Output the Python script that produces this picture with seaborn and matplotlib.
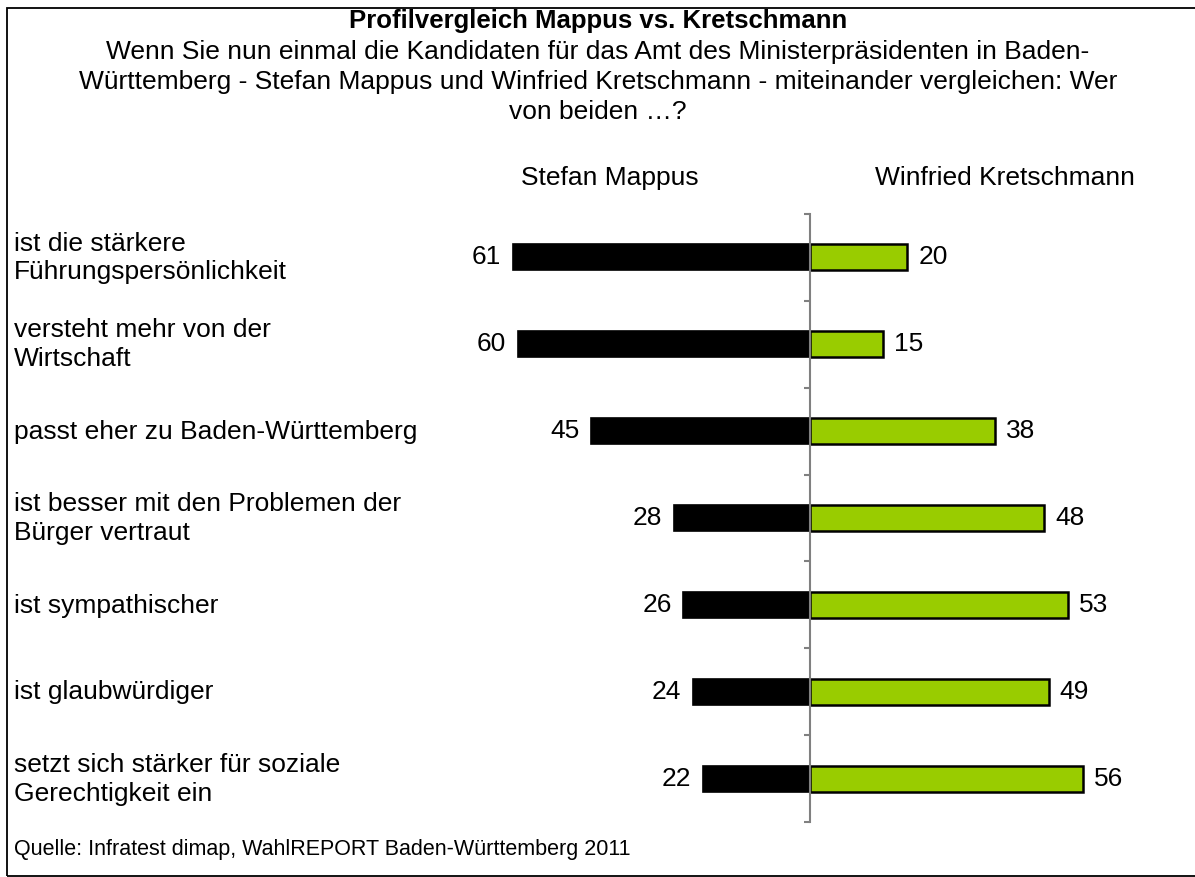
import matplotlib
matplotlib.use("Agg")
import matplotlib.pyplot as plt
import pandas as pd
import seaborn as sns
from matplotlib.patches import Rectangle

sns.set_style("white")
plt.rcParams["font.family"] = ["Liberation Sans", "DejaVu Sans"]
plt.rcParams["text.color"] = "black"

# Daten aus der Grafik
statements = [
    "ist die stärkere\nFührungspersönlichkeit",
    "versteht mehr von der\nWirtschaft",
    "passt eher zu Baden-Württemberg",
    "ist besser mit den Problemen der\nBürger vertraut",
    "ist sympathischer",
    "ist glaubwürdiger",
    "setzt sich stärker für soziale\nGerechtigkeit ein",
]
mappus = [61, 60, 45, 28, 26, 24, 22]
kretschmann = [20, 15, 38, 48, 53, 49, 56]

title = "Profilvergleich Mappus vs. Kretschmann"
subtitle = ("Wenn Sie nun einmal die Kandidaten für das Amt des Ministerpräsidenten in Baden-\n"
            "Württemberg - Stefan Mappus und Winfried Kretschmann - miteinander vergleichen: Wer\n"
            "von beiden …?")
source = "Quelle: Infratest dimap, WahlREPORT Baden-Württemberg 2011"

data = pd.DataFrame({
    "statement": statements,
    "mappus": [-v for v in mappus],
    "kretschmann": kretschmann,
})

W, H = 1195, 877
fig = plt.figure(figsize=(W / 100, H / 100), dpi=100)

px = 4.87
x_min, x_max = -80, 78
center = 810
left_px = center + x_min * px
ax = fig.add_axes([left_px / W, 1 - 822 / H, (x_max - x_min) * px / W, (822 - 214) / H])

sns.barplot(data=data, x="mappus", y="statement", orient="h", color="black",
            edgecolor="black", linewidth=1.2, width=0.3, saturation=1, ax=ax)
sns.barplot(data=data, x="kretschmann", y="statement", orient="h", color="#99CC00",
            edgecolor="black", linewidth=1.8, width=0.3, saturation=1, ax=ax)

ax.set_xlim(x_min, x_max)
ax.set_ylim(len(statements) - 0.5, -0.5)
ax.set_xlabel("")
ax.set_ylabel("")
ax.set_xticks([])
for side in ["top", "right", "bottom"]:
    ax.spines[side].set_visible(False)
ax.spines["left"].set_position(("data", 0))
ax.spines["left"].set_color("#808080")
ax.spines["left"].set_linewidth(1.5)
ax.set_yticks([i - 0.5 for i in range(len(statements) + 1)])
ax.set_yticklabels([])
ax.tick_params(axis="y", direction="out", length=4, width=1.5, color="#808080", left=True)

for i, (m, k) in enumerate(zip(mappus, kretschmann)):
    ax.text(-m - 2.4, i, str(m), ha="right", va="center", fontsize=19)
    ax.text(k + 2.3, i, str(k), ha="left", va="center", fontsize=19)
    fig.text(14 / W, 1 - (258 + 86.9 * i) / H, statements[i], ha="left", va="center",
             fontsize=19, linespacing=1.26)

fig.text(598 / W, 1 - 21 / H, title, ha="center", va="center", fontsize=18.5, fontweight="bold")
fig.text(598 / W, 1 - 82 / H, subtitle, ha="center", va="center", fontsize=19, linespacing=1.33)
fig.text(610 / W, 1 - 178 / H, "Stefan Mappus", ha="center", va="center", fontsize=19)
fig.text(1005 / W, 1 - 178 / H, "Winfried Kretschmann", ha="center", va="center", fontsize=19)
fig.text(14 / W, 1 - 850 / H, source, ha="left", va="center", fontsize=15.5)

fig.add_artist(Rectangle((7 / W, 1 / H), 1.1, 1 - 9 / H, transform=fig.transFigure,
                         fill=False, edgecolor="black", linewidth=1.3, clip_on=False))

fig.savefig("out.png", dpi=100)
